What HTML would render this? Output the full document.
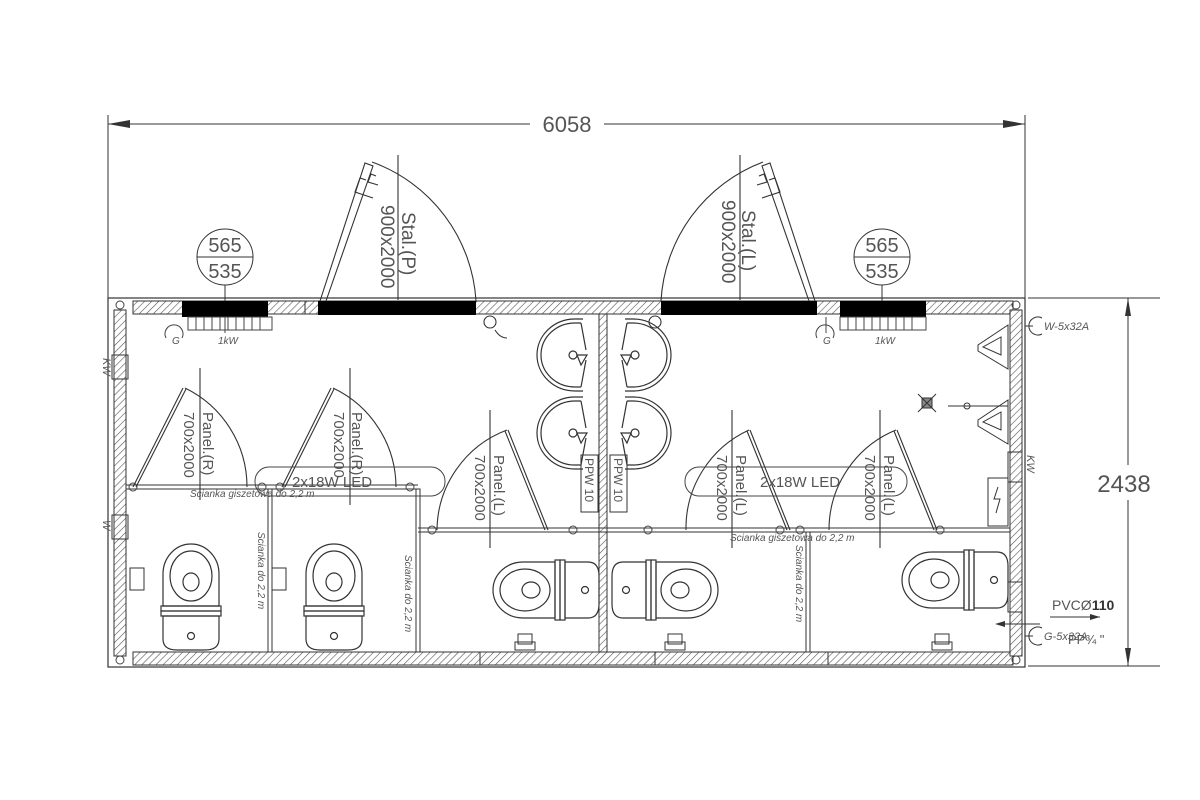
<!DOCTYPE html>
<html><head><meta charset="utf-8"><style>
html,body{margin:0;padding:0;background:#fff;width:1200px;height:800px;overflow:hidden}
svg{display:block}
text{font-family:"Liberation Sans",sans-serif;fill:#555}
</style></head><body>
<svg width="1200" height="800" viewBox="0 0 1200 800" xmlns="http://www.w3.org/2000/svg">
<defs>
<pattern id="h" width="5" height="5" patternUnits="userSpaceOnUse" patternTransform="rotate(45)">
<rect width="5" height="5" fill="#fff"/><line x1="0" y1="0" x2="0" y2="5" stroke="#555" stroke-width="1.2"/>
</pattern>
<g id="wc" fill="none" stroke="#333" stroke-width="1.2">
<path d="M-28,62 L-28,30 A28,30 0 0 1 28,30 L28,62 Z"/>
<ellipse cx="0" cy="32" rx="21" ry="25"/>
<ellipse cx="0" cy="38" rx="8" ry="9"/>
<rect x="-30" y="62" width="60" height="5"/>
<rect x="-30" y="67" width="60" height="5"/>
<path d="M-28,72 L28,72 L28,95 Q28,106 14,106 L-14,106 Q-28,106 -28,95 Z"/>
<circle cx="0" cy="92" r="3.5"/>
</g>
<g id="sink" fill="none" stroke="#333" stroke-width="1.2">
<path d="M0,-36 L-8,-36 A38,36 0 0 0 -8,36 L0,36"/>
<path d="M-2,-32 L-8,-32 A34,32 0 0 0 -8,32 L-2,32"/>
<path d="M-2,-32 L3,-5 M-2,32 L3,5"/>
<circle cx="-10" cy="0" r="4"/><path d="M-6,0 L4,0 L-2,10 Z"/>
</g>
</defs>

<g stroke="#333" stroke-width="1" fill="none">
<line x1="108" y1="115" x2="108" y2="298"/><line x1="1025" y1="115" x2="1025" y2="298"/>
<line x1="108" y1="124" x2="530" y2="124"/><line x1="604" y1="124" x2="1025" y2="124"/>
<line x1="1028" y1="298" x2="1160" y2="298"/><line x1="1028" y1="666" x2="1160" y2="666"/>
<line x1="1128" y1="298" x2="1128" y2="465"/><line x1="1128" y1="500" x2="1128" y2="666"/>
</g>
<path d="M108,124 l22,-4 v8z M1025,124 l-22,-4 v8z M1128,298 l-3,18 h6z M1128,666 l-3,-18 h6z" fill="#333"/>
<text x="567" y="132" font-size="22" text-anchor="middle">6058</text>
<text x="1124" y="492" font-size="24" text-anchor="middle">2438</text>

<rect x="108" y="298" width="917" height="369" fill="none" stroke="#333" stroke-width="1.2"/>
<g stroke="#333" stroke-width="1" fill="url(#h)">
<rect x="133" y="301" width="880" height="13"/>
<rect x="133" y="652" width="880" height="13"/>
<rect x="114" y="310" width="12" height="346"/>
<rect x="1010" y="310" width="12" height="346"/>
<rect x="599" y="314" width="8" height="338"/>
</g>
<g stroke="#333" stroke-width="1">
<line x1="480" y1="652" x2="480" y2="665"/><line x1="655" y1="652" x2="655" y2="665"/><line x1="828" y1="652" x2="828" y2="665"/>
<line x1="305" y1="301" x2="305" y2="314"/>
</g>
<g fill="#000">
<rect x="182" y="301" width="86" height="16"/><rect x="318" y="301" width="158" height="14"/>
<rect x="661" y="301" width="156" height="14"/><rect x="840" y="301" width="86" height="16"/>
</g>
<g stroke="#444" stroke-width="1" fill="none">
<rect x="188" y="317" width="84" height="13"/><rect x="840" y="317" width="86" height="13"/>
<path d="M196,317v13M204,317v13M212,317v13M220,317v13M228,317v13M236,317v13M244,317v13M252,317v13M260,317v13"/>
<path d="M848,317v13M856,317v13M864,317v13M872,317v13M880,317v13M888,317v13M896,317v13M904,317v13M912,317v13"/>
<line x1="225" y1="317" x2="225" y2="333"/><line x1="826" y1="317" x2="826" y2="333"/>
<path d="M166,338 a9,9 0 1 1 16,0"/><path d="M817,338 a9,9 0 1 1 16,0"/>
</g>
<text x="172" y="344" font-size="10" font-style="italic">G</text><text x="823" y="344" font-size="10" font-style="italic">G</text>
<text x="218" y="344" font-size="10" font-style="italic">1kW</text><text x="875" y="344" font-size="10" font-style="italic">1kW</text>

<g stroke="#333" stroke-width="1" fill="none">
<circle cx="225" cy="257" r="28"/><line x1="197" y1="257" x2="253" y2="257"/><line x1="225" y1="285" x2="225" y2="301"/>
<circle cx="882" cy="257" r="28"/><line x1="854" y1="257" x2="910" y2="257"/><line x1="882" y1="285" x2="882" y2="301"/>
</g>
<g font-size="20" text-anchor="middle"><text x="225" y="252">565</text><text x="225" y="278">535</text><text x="882" y="252">565</text><text x="882" y="278">535</text></g>

<g stroke="#333" stroke-width="1.1" fill="none">
<path d="M320,301 L365,163 L373,166 L326,301"/>
<path d="M476,301 A158,158 0 0 0 372,162"/>
<path d="M373,198 l-18,-6 l5,-14 l6,2 M378,185 l-10,-3 l3,-8 l5,2"/>
<line x1="398" y1="155" x2="398" y2="300"/>
<path d="M815,301 L770,163 L762,166 L809,301"/>
<path d="M661,301 A158,158 0 0 1 763,162"/>
<path d="M762,198 l18,-6 l-5,-14 l-6,2 M757,185 l10,-3 l-3,-8 l-5,2"/>
<line x1="740" y1="155" x2="740" y2="300"/>
<circle cx="490" cy="322" r="6"/><path d="M495,330 q5,8 12,8"/>
<circle cx="655" cy="322" r="6"/>
</g>
<g font-size="19">
<text transform="translate(402,212) rotate(90)">Stal.(P)</text>
<text transform="translate(381,205) rotate(90)">900x2000</text>
<text transform="translate(742,210) rotate(90)">Stal.(L)</text>
<text transform="translate(722,200) rotate(90)">900x2000</text>
</g>

<g stroke="#333" stroke-width="1" fill="none">
<line x1="126" y1="485" x2="418" y2="485"/><line x1="126" y1="489" x2="418" y2="489"/>
<line x1="418" y1="528" x2="1010" y2="528"/><line x1="418" y1="532" x2="1010" y2="532"/>
<rect x="268" y="489" width="4" height="163"/><rect x="416" y="489" width="4" height="163"/>
<rect x="806" y="532" width="4" height="120"/>
</g>
<g stroke="#444" stroke-width="1" fill="none">
<circle cx="133" cy="487" r="4"/><circle cx="262" cy="487" r="4"/><circle cx="280" cy="487" r="4"/><circle cx="410" cy="487" r="4"/>
<circle cx="432" cy="530" r="4"/><circle cx="573" cy="530" r="4"/><circle cx="648" cy="530" r="4"/><circle cx="780" cy="530" r="4"/><circle cx="800" cy="530" r="4"/><circle cx="940" cy="530" r="4"/>
<circle cx="120" cy="305" r="4"/><circle cx="120" cy="660" r="4"/><circle cx="1016" cy="305" r="4"/><circle cx="1016" cy="660" r="4"/>
</g>

<g stroke="#333" stroke-width="1.1" fill="none">
<path d="M133,487 L183,388 M136,487 L186,389"/><path d="M185,388 A110,110 0 0 1 247,487"/><line x1="200" y1="368" x2="200" y2="500"/>
<path d="M282,487 L331,388 M285,487 L334,389"/><path d="M333,388 A110,110 0 0 1 396,487"/><line x1="350" y1="368" x2="350" y2="505"/>
<path d="M548,530 L508,430 M545,530 L505,431"/><path d="M507,430 A108,108 0 0 0 437,530"/><line x1="490" y1="410" x2="490" y2="548"/>
<path d="M790,530 L750,430 M787,530 L747,431"/><path d="M749,430 A108,108 0 0 0 686,530"/><line x1="732" y1="410" x2="732" y2="548"/>
<path d="M937,530 L897,430 M934,530 L894,431"/><path d="M896,430 A108,108 0 0 0 829,530"/><line x1="880" y1="410" x2="880" y2="548"/>
</g>
<g font-size="15">
<text transform="translate(203,412) rotate(90)">Panel.(R)</text><text transform="translate(184,412) rotate(90)">700x2000</text>
<text transform="translate(352,412) rotate(90)">Panel.(R)</text><text transform="translate(334,412) rotate(90)">700x2000</text>
<text transform="translate(494,455) rotate(90)">Panel.(L)</text><text transform="translate(475,455) rotate(90)">700x2000</text>
<text transform="translate(736,455) rotate(90)">Panel.(L)</text><text transform="translate(717,455) rotate(90)">700x2000</text>
<text transform="translate(884,455) rotate(90)">Panel.(L)</text><text transform="translate(865,455) rotate(90)">700x2000</text>
</g>
<rect x="255" y="467" width="190" height="29" rx="14" fill="none" stroke="#444"/>
<rect x="685" y="467" width="222" height="29" rx="14" fill="none" stroke="#444"/>
<text x="292" y="487" font-size="15">2x18W LED</text>
<text x="760" y="487" font-size="15">2x18W LED</text>
<g font-size="10" font-style="italic">
<text x="190" y="497">Scianka giszetowa do 2,2 m</text>
<text x="730" y="541">Scianka giszetowa do 2,2 m</text>
<text transform="translate(258,532) rotate(90)">Scianka do 2,2 m</text>
<text transform="translate(405,555) rotate(90)">Scianka do 2,2 m</text>
<text transform="translate(796,545) rotate(90)">Scianka do 2,2 m</text>
</g>

<use href="#sink" transform="translate(583,355)"/>
<use href="#sink" transform="translate(583,433)"/>
<use href="#sink" transform="translate(625,355) scale(-1,1)"/>
<use href="#sink" transform="translate(625,433) scale(-1,1)"/>
<g fill="none" stroke="#333"><rect x="581" y="455" width="17" height="57"/><rect x="610" y="455" width="17" height="57"/></g>
<g font-size="12"><text transform="translate(585,458) rotate(90)">PPW 10</text><text transform="translate(614,458) rotate(90)">PPW 10</text></g>

<use href="#wc" transform="translate(191,544)"/>
<use href="#wc" transform="translate(334,544)"/>
<use href="#wc" transform="translate(493,590) rotate(-90)"/>
<use href="#wc" transform="translate(718,590) rotate(90)"/>
<use href="#wc" transform="translate(902,580) rotate(-90)"/>
<g fill="none" stroke="#333">
<rect x="130" y="568" width="14" height="22"/><rect x="272" y="568" width="14" height="22"/>
<rect x="518" y="634" width="14" height="10"/><rect x="515" y="642" width="20" height="8"/>
<rect x="668" y="634" width="14" height="10"/><rect x="665" y="642" width="20" height="8"/>
<rect x="935" y="634" width="14" height="10"/><rect x="932" y="642" width="20" height="8"/>
<rect x="112" y="355" width="16" height="24"/><rect x="112" y="515" width="16" height="24"/>
<rect x="1008" y="452" width="14" height="30"/><rect x="1008" y="582" width="14" height="30"/>
<rect x="988" y="478" width="20" height="48"/>
<path d="M998,487 l-4,12 h6 l-4,14" />
<path d="M1008,325 l-30,20 l0,6 l30,18 Z M1001,337 l-18,10 l18,8 Z"/>
<path d="M1008,400 l-30,20 l0,6 l30,18 Z M1001,412 l-18,10 l18,8 Z"/>
<line x1="948" y1="406" x2="1008" y2="406"/><circle cx="967" cy="406" r="3"/>
<rect x="922" y="398" width="10" height="10" fill="#888"/><path d="M918,394 l18,18 M936,394 l-18,18"/>
<path d="M1025,326 h8 M1042,318 a9,9 0 1 0 0,16"/>
<path d="M1025,636 h8 M1042,628 a9,9 0 1 0 0,16"/>
<path d="M1050,617 h50" /><path d="M1040,624 h-40"/>
</g>
<path d="M1100,617 l-10,-3 v6z M995,624 l10,-3 v6z" fill="#333"/>
<g font-size="11" font-style="italic">
<text x="1044" y="330">W-5x32A</text>
<text x="1044" y="640">G-5x32A</text>
<text transform="translate(103,358) rotate(90)">KW</text>
<text transform="translate(103,520) rotate(90)">W</text>
<text transform="translate(1027,455) rotate(90)">KW</text>
</g>
<text x="1052" y="610" font-size="14">PVCØ<tspan font-weight="bold" fill="#333">110</tspan></text>
<text x="1068" y="644" font-size="13">PP¾ "</text>
</svg>
</body></html>
